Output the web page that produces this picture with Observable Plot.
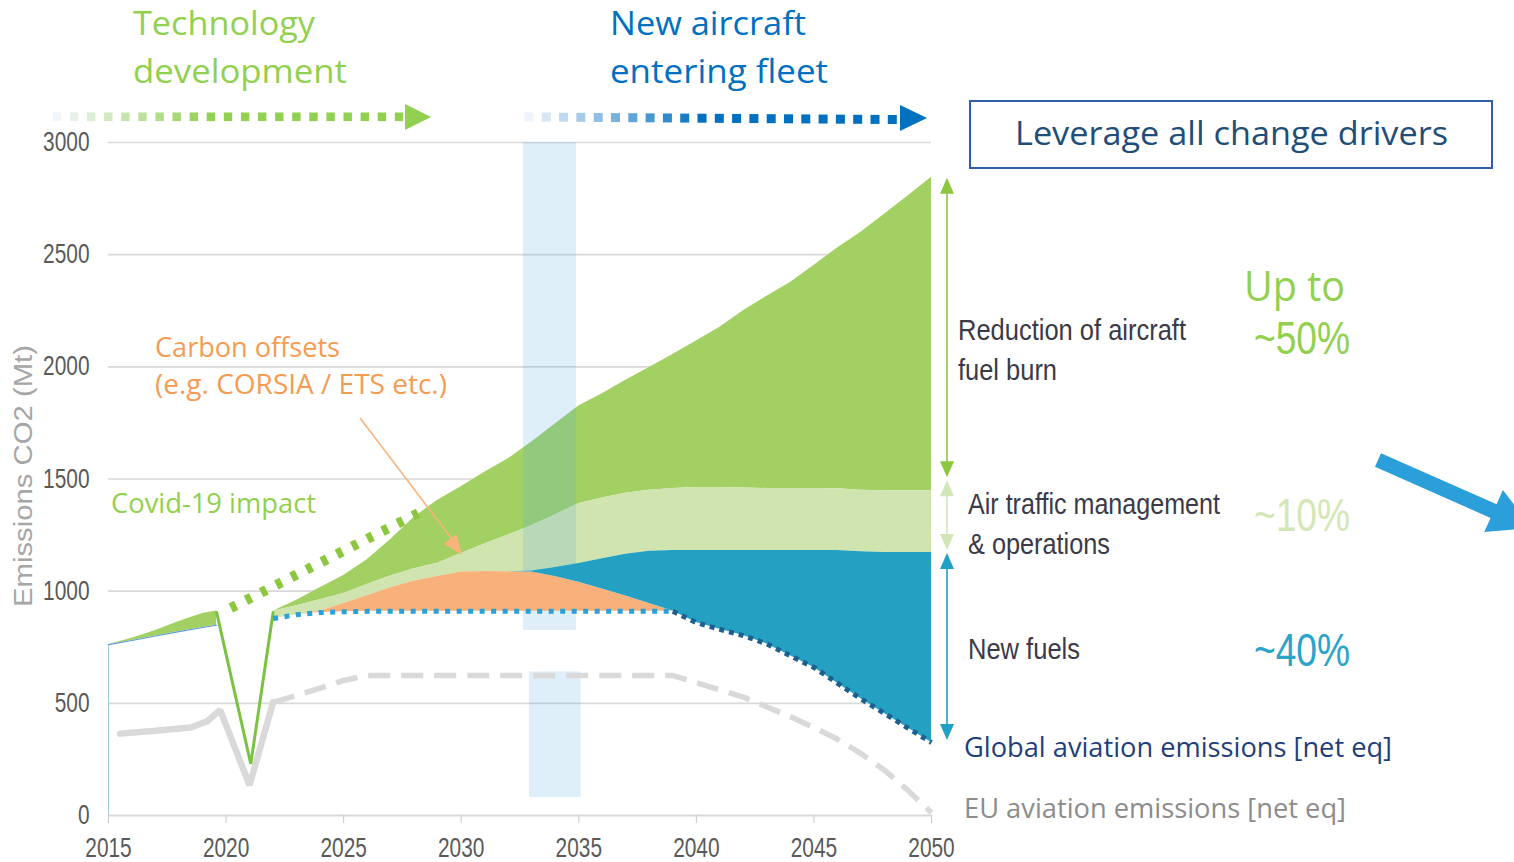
<!DOCTYPE html>
<html><head><meta charset="utf-8">
<script src="https://cdn.jsdelivr.net/npm/d3@7"></script>
<script src="https://cdn.jsdelivr.net/npm/@observablehq/plot@0.6"></script>
<style>
html,body{margin:0;padding:0;background:#fff;}
#chart{width:1514px;height:862px;position:relative;overflow:hidden;}
</style></head><body><div id="chart"></div>
<script>
// ---- tick labels ----
const xTicks = [2015, 2020, 2025, 2030, 2035, 2040, 2045, 2050];
const yTicks = [0, 500, 1000, 1500, 2000, 2500, 3000];

// ---- historical (2015 - pre-covid) ----
const histYears = [2015, 2016, 2017, 2018, 2019, 2019.6];
const histTop = [762, 790, 825, 865, 900, 912];
const histBottom = [762, 780, 800, 820, 838, 848];

// ---- covid dip ----
const covidYears = [2019.6, 2021.05, 2022];
const covidValues = [905, 230, 905];

// ---- pre-covid trend (dashed) ----
const trendYears = [2020.2, 2028.4];
const trendValues = [925, 1360];

// ---- projections 2022-2050 ----
const projYears = [2022, 2023, 2024, 2025, 2026, 2027, 2028, 2029, 2030, 2031, 2032, 2033, 2034, 2035, 2036, 2037, 2038, 2039, 2040, 2041, 2042, 2043, 2044, 2045, 2046, 2047, 2048, 2049, 2050];
const baselineTop = [910, 960, 1015, 1070, 1140, 1230, 1330, 1405, 1465, 1530, 1590, 1665, 1745, 1825, 1880, 1940, 1997, 2055, 2115, 2176, 2250, 2315, 2376, 2452, 2530, 2600, 2680, 2762, 2845];
const atmTop = [910, 935, 962, 990, 1030, 1068, 1100, 1125, 1168, 1210, 1250, 1292, 1340, 1390, 1415, 1437, 1450, 1458, 1462, 1462, 1460, 1458, 1458, 1458, 1456, 1450, 1448, 1448, 1448];
const fuelsTop = [878, 895, 910, 945, 980, 1015, 1045, 1065, 1085, 1088, 1087, 1090, 1105, 1123, 1145, 1165, 1178, 1181, 1181, 1181, 1181, 1181, 1181, 1181, 1181, 1176, 1172, 1172, 1172];
const offsetTop = [878, 895, 910, 945, 980, 1015, 1045, 1065, 1085, 1088, 1087, 1085, 1065, 1040, 1010, 978, 945, 912, 860, 830, 802, 765, 712, 660, 590, 520, 455, 390, 325];
const globalNet = [878, 895, 905, 908, 910, 910, 910, 910, 910, 910, 910, 910, 910, 910, 910, 910, 910, 910, 860, 830, 802, 765, 712, 660, 590, 520, 455, 390, 325];

// ---- EU aviation emissions ----
const euHistYears = [2015.5, 2017, 2018.5, 2019.2, 2019.75, 2021, 2022];
const euHistValues = [365, 378, 392, 420, 470, 135, 504];
const euProjYears = [2022, 2023, 2024, 2025, 2026, 2030, 2035, 2039, 2040, 2042, 2044, 2045, 2046, 2047, 2048, 2049, 2050];
const euProjValues = [504, 535, 568, 602, 624, 624, 624, 624, 592, 528, 440, 392, 340, 276, 202, 112, 12];

// ---- "new aircraft entering fleet" window ----
const windowUpperYears = [2032.65, 2034.9];
const windowUpperValues = [825, 3000];
const windowLowerYears = [2032.9, 2035.1];
const windowLowerValues = [80, 640];

const GREEN = "#A2D063", LIGHT = "#CFE4AE", BLUE = "#23A0C2", ORANGE = "#F8B17A";
const NARROW = "'Liberation Sans Narrow','Liberation Sans',Arial,sans-serif";
const OPEN = "'Open Sans','Noto Sans',sans-serif";
const ARIAL = "'Liberation Sans',Arial,sans-serif";

const hist = histYears.map((year, i) => ({year, top: histTop[i], bottom: histBottom[i]}));
const covid = covidYears.map((year, i) => ({year, v: covidValues[i]}));
const trend = trendYears.map((year, i) => ({year, v: trendValues[i]}));
const proj = projYears.map((year, i) => ({year, tech: baselineTop[i], atm: atmTop[i], fuels: fuelsTop[i], offset: offsetTop[i], net: globalNet[i]}));
const euHist = euHistYears.map((year, i) => ({year, v: euHistValues[i]}));
const euProj = euProjYears.map((year, i) => ({year, v: euProjValues[i]}));
const windows = [
  {x1: windowUpperYears[0], x2: windowUpperYears[1], y1: windowUpperValues[0], y2: windowUpperValues[1]},
  {x1: windowLowerYears[0], x2: windowLowerYears[1], y1: windowLowerValues[0], y2: windowLowerValues[1]}
];

const chart = Plot.plot({
  width: 1514, height: 862,
  marginLeft: 108, marginRight: 583, marginTop: 142, marginBottom: 47,
  x: {domain: [2015, 2050], axis: null},
  y: {domain: [0, 3000], axis: null},
  style: {background: "white", fontFamily: NARROW, overflow: "visible"},
  marks: [
    Plot.ruleY(yTicks.filter(d => d > 0), {y: d => d, stroke: "#D9D9D9", strokeWidth: 1.6}),
    Plot.ruleX([2015], {x: d => d, y1: 0, y2: histBottom[0], stroke: "#9CCAD6", strokeWidth: 1}),
    Plot.ruleY([0], {y: d => d, stroke: "#D9D9D9", strokeWidth: 2}),
    Plot.axisX(xTicks, {tickSize: 8, tickPadding: 14, fontSize: 27, fontFamily: NARROW, stroke: "#C8C8C8", fill: "#595959", tickFormat: d => String(d), label: null}),
    Plot.axisY(yTicks, {tickSize: 0, tickPadding: 19, fontSize: 27, fontFamily: NARROW, fill: "#595959", tickFormat: d => String(d), label: null}),
    Plot.areaY(hist, {x: "year", y1: "bottom", y2: "top", fill: GREEN}),
    Plot.line(hist, {x: "year", y: "bottom", stroke: "#5B9BD5", strokeWidth: 1.2}),
    Plot.areaY(proj, {x: "year", y1: "atm", y2: "tech", fill: GREEN}),
    Plot.areaY(proj, {x: "year", y1: "fuels", y2: "atm", fill: LIGHT}),
    Plot.rect(windows, {x1: "x1", x2: "x2", y1: "y1", y2: "y2", fill: "#5AAEE0", fillOpacity: 0.2}),
    Plot.areaY(proj, {x: "year", y1: "net", y2: "offset", fill: ORANGE}),
    Plot.areaY(proj, {x: "year", y1: "offset", y2: "fuels", fill: BLUE}),
    Plot.line(euHist, {x: "year", y: "v", stroke: "#D9D9D9", strokeWidth: 6.5, strokeLinejoin: "miter"}),
    Plot.line(euProj, {x: "year", y: "v", stroke: "#D9D9D9", strokeWidth: 5.5, strokeDasharray: "22 11", strokeLinecap: "butt"}),
    Plot.line(trend, {x: "year", y: "v", stroke: "#8DC63F", strokeWidth: 10, strokeDasharray: "6 11", strokeLinecap: "butt"}),
    Plot.line(covid, {x: "year", y: "v", stroke: "#7CC242", strokeWidth: 3, strokeLinejoin: "miter"}),
    Plot.line(proj.filter(d => d.year <= 2039), {x: "year", y: "net", stroke: "#2A9FD8", strokeWidth: 5, strokeDasharray: "5 6.5", strokeLinecap: "butt"}),
    Plot.line(proj.filter(d => d.year >= 2039), {x: "year", y: "net", stroke: "#1D5F8F", strokeWidth: 5, strokeDasharray: "5 5", strokeLinecap: "butt"})
  ]
});
document.getElementById("chart").appendChild(chart);

// narrow tick labels (Arial Narrow look)
d3.select(chart).selectAll("g[aria-label='x-axis tick label'] text, g[aria-label='y-axis tick label'] text")
  .each(function () {
    const s = this.textContent;
    d3.select(this).attr("textLength", 11.6 * s.length).attr("lengthAdjust", "spacingAndGlyphs");
  });

// ---- annotations ----
const X = chart.scale("x"), Y = chart.scale("y");
const svg = d3.select(chart);
const g = svg.append("g").attr("class", "annotations").attr("text-anchor", "start");
function label(str, x, y, o) {
  const t = g.append("text").attr("x", x).attr("y", y).text(str)
    .attr("font-family", o.font).attr("font-size", o.size).attr("fill", o.fill)
    .attr("text-anchor", o.anchor || "start");
  if (o.len) t.attr("textLength", o.len).attr("lengthAdjust", "spacingAndGlyphs");
  if (o.rotate) t.attr("transform", `rotate(${o.rotate},${x},${y})`);
  return t;
}
function tri(points, fill) {
  g.append("polygon").attr("points", points.map(p => p.join(",")).join(" ")).attr("fill", fill);
}

// top dotted arrows
const tg = d3.interpolateRgb("#F0F6FA", "#92D050");
for (let i = 0; i < 21; i++) {
  const cx = 57 + i * 17.1;
  g.append("rect").attr("x", cx - 4.2).attr("y", 112.5).attr("width", 8.4).attr("height", 8.6)
    .attr("fill", tg(Math.min(1, i / 9)));
}
tri([[405, 104], [405, 130], [431, 117]], "#92D050");
const tb = d3.interpolateRgb("#EEF4FA", "#0070C0");
for (let i = 0; i < 22; i++) {
  const cx = 529 + i * 17.3;
  g.append("rect").attr("x", cx - 4.5).attr("y", 112.5 + i * 0.12).attr("width", 9).attr("height", 9)
    .attr("fill", tb(Math.min(1, i / 10)));
}
tri([[900, 105], [900, 131], [927, 118]], "#0070C0");

label("Technology", 133, 35, {font: OPEN, size: 32, fill: "#92D050", len: 182});
label("development", 133, 83, {font: OPEN, size: 32, fill: "#92D050", len: 214});
label("New aircraft", 610, 35, {font: OPEN, size: 32, fill: "#0070C0", len: 196});
label("entering fleet", 610, 83, {font: OPEN, size: 32, fill: "#0070C0", len: 218});

label("Carbon offsets", 155, 357, {font: OPEN, size: 27, fill: "#F59B52", len: 185});
label("(e.g. CORSIA / ETS etc.)", 155, 394, {font: OPEN, size: 27, fill: "#F59B52", len: 292});
label("Covid-19 impact", 111, 513, {font: OPEN, size: 27, fill: "#92D050", len: 205});

label("Emissions CO2 (Mt)", 32, 476, {font: ARIAL, size: 26, fill: "#A6A6A6", anchor: "middle", rotate: -90, len: 262});

// orange pointer
g.append("line").attr("x1", 360).attr("y1", 418).attr("x2", 455).attr("y2", 543)
  .attr("stroke", "#F9B47C").attr("stroke-width", 1.6);
(function () {
  const tip = [462, 555], dx = 462 - 360, dy = 555 - 418, L = Math.hypot(dx, dy);
  const ux = dx / L, uy = dy / L, px = -uy, py = ux, hl = 20, hw = 8;
  const bx = tip[0] - ux * hl, by = tip[1] - uy * hl;
  tri([tip, [bx + px * hw, by + py * hw], [bx - px * hw, by - py * hw]], "#F9B47C");
})();

// box
g.append("rect").attr("x", 970).attr("y", 101).attr("width", 522).attr("height", 67)
  .attr("fill", "none").attr("stroke", "#2E5FA8").attr("stroke-width", 2);
label("Leverage all change drivers", 1015, 145, {font: OPEN, size: 33, fill: "#1F4E79", len: 433});

// vertical double arrows
function vArrow(x, yTop, yBot, color, w) {
  const hl = 16, hw = 7;
  g.append("line").attr("x1", x).attr("x2", x).attr("y1", yTop + hl - 2).attr("y2", yBot - hl + 2)
    .attr("stroke", color).attr("stroke-width", w);
  tri([[x, yTop], [x - hw, yTop + hl], [x + hw, yTop + hl]], color);
  tri([[x, yBot], [x - hw, yBot - hl], [x + hw, yBot - hl]], color);
}
const last = projYears.length - 1;
const ax = X.apply(2050) + 16;
vArrow(ax, Y.apply(baselineTop[last]) + 1, Y.apply(atmTop[last]) - 13, "#8DC63F", 1.6);
vArrow(ax, Y.apply(atmTop[last]) - 10, Y.apply(fuelsTop[last]) - 2, "#D3E7B6", 1.6);
vArrow(ax, Y.apply(fuelsTop[last]) + 1, Y.apply(globalNet[last]) - 2, "#1FA0C4", 1.6);

label("Reduction of aircraft", 958, 340, {font: NARROW, size: 29, fill: "#3A3A48", len: 228});
label("fuel burn", 958, 380, {font: NARROW, size: 29, fill: "#3A3A48", len: 99});
label("Air traffic management", 968, 514, {font: NARROW, size: 29, fill: "#3A3A48", len: 252});
label("& operations", 968, 554, {font: NARROW, size: 29, fill: "#3A3A48", len: 142});
label("New fuels", 968, 659, {font: NARROW, size: 29, fill: "#3A3A48", len: 112});

label("Up to", 1244, 301, {font: OPEN, size: 42, fill: "#92D050", len: 101});
label("~50%", 1254, 354, {font: NARROW, size: 46, fill: "#92D050", len: 96});
label("~10%", 1254, 531, {font: NARROW, size: 46, fill: "#D3E7B6", len: 96});
label("~40%", 1254, 666, {font: NARROW, size: 46, fill: "#2AA4C9", len: 96});

label("Global aviation emissions [net eq]", 964, 757, {font: OPEN, size: 28, fill: "#1F3F7A", len: 428});
label("EU aviation emissions [net eq]", 964, 818, {font: OPEN, size: 28, fill: "#8C8C8C", len: 382});

// big blue arrow (cut at the right edge)
(function () {
  const s = [1378, 460], tip = [1532, 528];
  const dx = tip[0] - s[0], dy = tip[1] - s[1], L = Math.hypot(dx, dy);
  const ux = dx / L, uy = dy / L, px = -uy, py = ux;
  const hl = 42, hw = 23, sw = 7.5;
  const bx = tip[0] - ux * hl, by = tip[1] - uy * hl;
  tri([
    [s[0] + px * sw, s[1] + py * sw], [bx + px * sw, by + py * sw], [bx + px * hw, by + py * hw], tip,
    [bx - px * hw, by - py * hw], [bx - px * sw, by - py * sw], [s[0] - px * sw, s[1] - py * sw]
  ], "#2B9FD9");
})();
</script></body></html>
